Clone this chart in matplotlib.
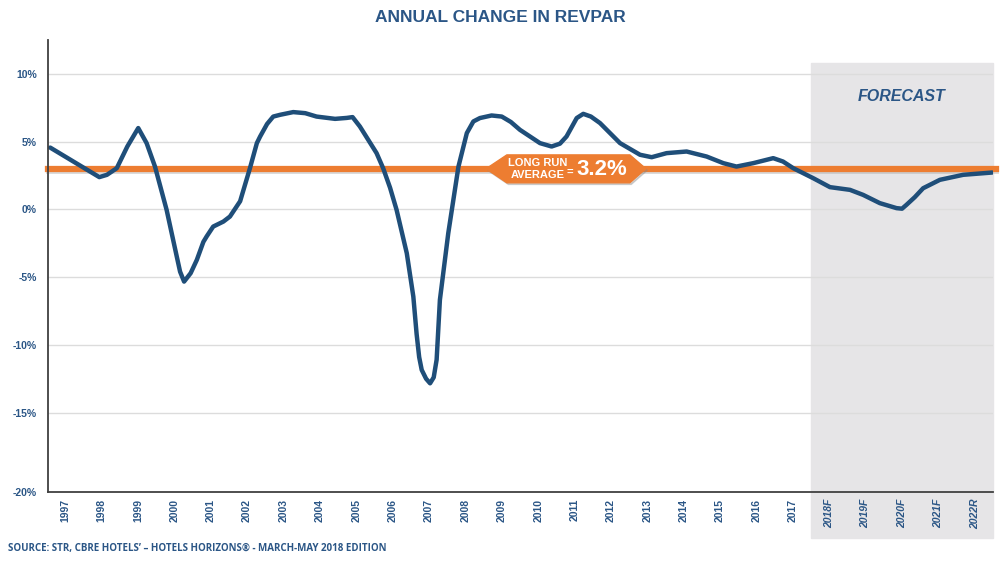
import numpy as np
import matplotlib.pyplot as plt
from matplotlib.patches import Polygon

# Données (variation annuelle du RevPAR, %)
anos = [1997 + k for k in range(26)]
rotulos = [str(a) for a in range(1997, 2018)] + ["2018F", "2019F", "2020F", "2021F", "2022R"]

t = [1996.59, 1997.94, 1998.15, 1998.42, 1998.71, 1999.01, 1999.24, 1999.47, 1999.79,
     2000.07, 2000.16, 2000.27, 2000.45, 2000.62, 2000.80, 2000.89, 2001.07, 2001.35,
     2001.53, 2001.81, 2002.08, 2002.27, 2002.36, 2002.55, 2002.72, 2002.91, 2003.27,
     2003.60, 2003.91, 2004.42, 2004.74, 2004.90, 2005.10, 2005.56, 2005.74, 2005.93,
     2006.11, 2006.39, 2006.57, 2006.66, 2006.73, 2006.80, 2006.92, 2007.03, 2007.13,
     2007.21, 2007.30, 2007.53, 2007.81, 2008.04, 2008.22, 2008.40, 2008.72, 2009.00,
     2009.25, 2009.50, 2010.05, 2010.37, 2010.60, 2010.78, 2011.06, 2011.24, 2011.45,
     2011.70, 2012.25, 2012.80, 2013.12, 2013.53, 2014.08, 2014.63, 2015.09, 2015.45,
     2015.91, 2016.46, 2016.73, 2017.01, 2017.56, 2018.02, 2018.57, 2018.93, 2019.39,
     2019.85, 2020.00, 2020.12, 2020.35, 2020.58, 2021.04, 2021.68, 2022.48]
revpar = [4.56, 2.38, 2.55, 3.04, 4.64, 6.00, 4.89, 3.16, -0.04,
          -3.50, -4.60, -5.33, -4.71, -3.73, -2.40, -2.00, -1.27, -0.90,
          -0.53, 0.60, 3.04, 4.89, 5.38, 6.30, 6.85, 6.98, 7.18,
          7.10, 6.85, 6.68, 6.75, 6.81, 6.12, 4.15, 3.04, 1.60,
          -0.04, -3.24, -6.44, -9.20, -10.90, -11.85, -12.50, -12.84, -12.40,
          -11.10, -6.68, -1.76, 3.16, 5.63, 6.49, 6.74, 6.93, 6.85,
          6.45, 5.87, 4.89, 4.64, 4.85, 5.38, 6.74, 7.05, 6.85,
          6.37, 4.89, 4.03, 3.85, 4.15, 4.27, 3.90, 3.41, 3.16,
          3.41, 3.78, 3.53, 3.04, 2.30, 1.64, 1.44, 1.07, 0.46,
          0.09, 0.05, 0.33, 0.90, 1.56, 2.18, 2.55, 2.72]
media_longo_prazo = 3.0
yticks = [-15, -10, -5, 0, 5, 10]

azul = "#1f4e79"
azul_txt = "#2b5686"
laranja = "#ed7d31"

fig = plt.figure(figsize=(10, 5.62), dpi=100)
ax = fig.add_axes([0.048, 0.1246, 0.945, 0.8042])
x0, x1 = 1996.53, 2022.5
ax.set_xlim(x0, x1)
ax.set_ylim(-20.86, 12.5)

# Região de previsão
sombra = ax.axvspan(2017.5, x1, ymin=-0.102, ymax=0.949, color="#e6e5e7", zorder=0)
sombra.set_clip_on(False)
ax.text(2020.0, 8.35, "FORECAST", ha="center", va="center", fontsize=11.5,
        fontweight="bold", fontstyle="italic", color=azul_txt, family="Liberation Sans")

# Grade
for v in yticks:
    ax.axhline(v, color="#dcdcdc", lw=1, zorder=1)

# Média de longo prazo
ax.plot([x0, 2022.58], [media_longo_prazo - 0.2] * 2, color="#aaaaaa", lw=3.5, alpha=0.45,
        zorder=2, clip_on=False)
ax.plot([x0, 2022.58], [media_longo_prazo] * 2, color=laranja, lw=4.5, zorder=3, clip_on=False)

# Série
ax.plot(t, revpar, color=azul, lw=3.2, zorder=4, solid_joinstyle="round", solid_capstyle="round")

# Etiqueta
xa, xb, xc, xd = 2008.57, 2009.14, 2012.52, 2012.96
ya, yb = 4.02, 1.96
sombra_etq = Polygon([(xa + 0.04, 2.88), (xb + 0.04, ya - 0.12), (xc + 0.04, ya - 0.12),
                      (xd + 0.04, 2.88), (xc + 0.04, yb - 0.12), (xb + 0.04, yb - 0.12)],
                     closed=True, color="#888888", alpha=0.35, zorder=5)
ax.add_patch(sombra_etq)
etq = Polygon([(xa, 3.0), (xb, ya), (xc, ya), (xd, 3.0), (xc, yb), (xb, yb)],
              closed=True, color=laranja, zorder=6)
ax.add_patch(etq)
ax.text(2010.0, 3.42, "LONG RUN", ha="center", va="center", fontsize=8, fontweight="bold",
        color="white", zorder=7, family="Liberation Sans")
ax.text(2010.0, 2.55, "AVERAGE", ha="center", va="center", fontsize=8, fontweight="bold",
        color="white", zorder=7, family="Liberation Sans")
ax.text(2010.88, 2.8, "=", ha="center", va="center", fontsize=8, fontweight="bold",
        color="white", zorder=7, family="Liberation Sans")
ax.text(2011.05, 2.95, "3.2%", ha="left", va="center", fontsize=16, fontweight="bold",
        color="white", zorder=7, family="Liberation Sans")

# Eixos
for lado in ["top", "right"]:
    ax.spines[lado].set_visible(False)
for lado in ["left", "bottom"]:
    ax.spines[lado].set_color("#404040")
    ax.spines[lado].set_linewidth(1.3)
    ax.spines[lado].set_zorder(8)

ax.set_yticks(yticks + [-20.86])
ax.set_yticklabels([f"{v}%" for v in yticks] + ["-20%"])
ax.tick_params(axis="y", length=0, pad=8, labelsize=7.5, labelcolor=azul_txt)
for lbl in ax.get_yticklabels():
    lbl.set_fontweight("bold")
    lbl.set_family("Liberation Sans")

ax.set_xticks(anos)
ax.set_xticklabels(rotulos, rotation=90, va="top", ha="center")
ax.tick_params(axis="x", length=0, pad=5, labelsize=7.5, labelcolor=azul_txt)
for lbl in ax.get_xticklabels():
    lbl.set_fontweight("bold")
    lbl.set_family("Liberation Sans")
    if not lbl.get_text().isdigit():
        lbl.set_fontstyle("italic")

fig.text(0.5, 1 - 18 / 562, "ANNUAL CHANGE IN REVPAR", ha="center", va="center",
         fontsize=12.5, fontweight="bold", color=azul_txt, family="Liberation Sans")
fig.text(0.008, 1 - 549 / 562, "SOURCE: STR, CBRE HOTELS\u2019 \u2013 HOTELS HORIZONS\u00ae - MARCH-MAY 2018 EDITION",
         ha="left", va="center", fontsize=7, fontweight="bold", color=azul_txt, family="Open Sans")

fig.savefig("out.png", dpi=100)
